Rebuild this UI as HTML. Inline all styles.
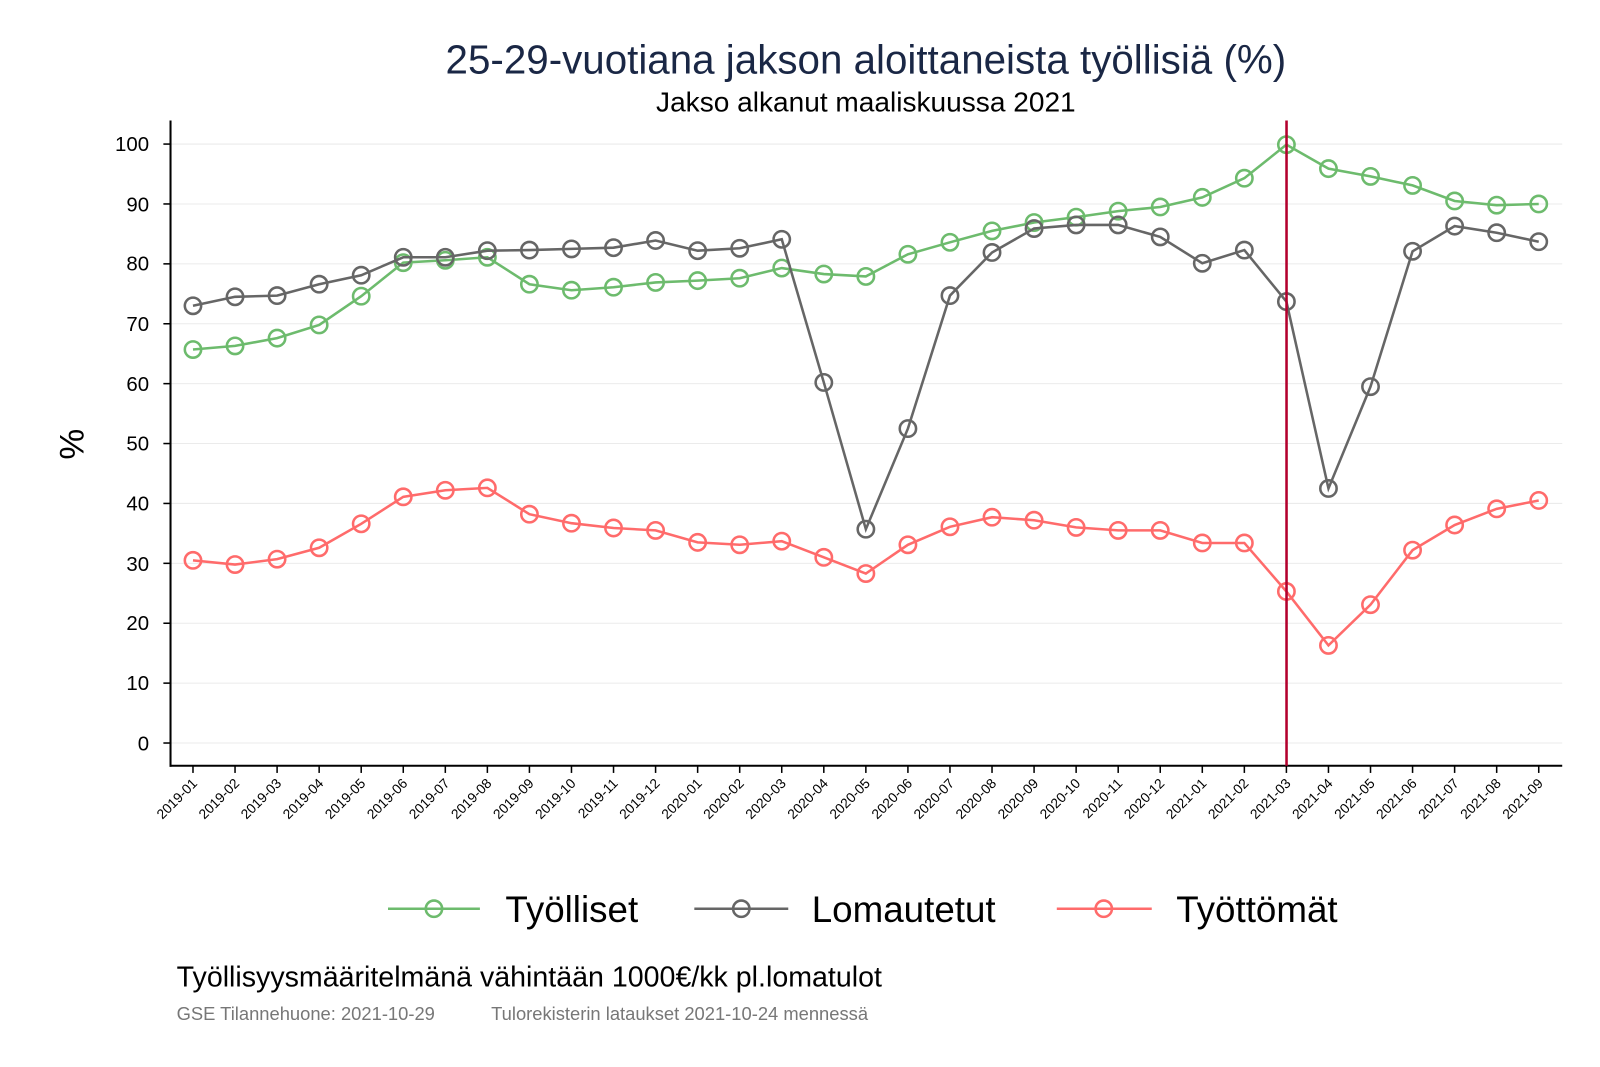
<!DOCTYPE html>
<html><head><meta charset="utf-8"><style>
html,body{margin:0;padding:0;background:#fff;}
svg{display:block;font-family:"Liberation Sans",Arial,sans-serif;}
</style></head><body>
<svg id="c" width="1600" height="1067" viewBox="0 0 1567 1045" xmlns="http://www.w3.org/2000/svg">
<rect width="1567" height="1045" fill="#fff"/>
<text x="848" y="72" text-anchor="middle" font-size="39.5" fill="#1a2745">25-29-vuotiana jakson aloittaneista työllisiä (%)</text>
<text x="848" y="109" text-anchor="middle" font-size="27.5" fill="#000">Jakso alkanut maaliskuussa 2021</text>
<g id="grid" stroke="#ebebeb" stroke-width="1"></g>
<g font-size="20" text-anchor="end" fill="#000">
<text x="146" y="148">100</text><text x="146" y="207">90</text><text x="146" y="265">80</text>
<text x="146" y="324">70</text><text x="146" y="383">60</text><text x="146" y="441">50</text>
<text x="146" y="500">40</text><text x="146" y="559">30</text><text x="146" y="617">20</text>
<text x="146" y="676">10</text><text x="146" y="735">0</text>
</g>
<text transform="translate(82,435) rotate(-90)" text-anchor="middle" font-size="34">%</text>
<line x1="167" y1="118" x2="167" y2="751" stroke="#000" stroke-width="2"/>
<line x1="166" y1="750" x2="1530" y2="750" stroke="#000" stroke-width="2"/>
<g id="ticks" stroke="#000" stroke-width="1.5"></g>
<g font-size="13.5" text-anchor="end" fill="#000">
<text transform="translate(194,768) rotate(-45)">2019-01</text>
<text transform="translate(235.2,768) rotate(-45)">2019-02</text>
<text transform="translate(276.4,768) rotate(-45)">2019-03</text>
<text transform="translate(317.6,768) rotate(-45)">2019-04</text>
<text transform="translate(358.8,768) rotate(-45)">2019-05</text>
<text transform="translate(399.9,768) rotate(-45)">2019-06</text>
<text transform="translate(441.1,768) rotate(-45)">2019-07</text>
<text transform="translate(482.3,768) rotate(-45)">2019-08</text>
<text transform="translate(523.5,768) rotate(-45)">2019-09</text>
<text transform="translate(564.7,768) rotate(-45)">2019-10</text>
<text transform="translate(605.9,768) rotate(-45)">2019-11</text>
<text transform="translate(647.1,768) rotate(-45)">2019-12</text>
<text transform="translate(688.3,768) rotate(-45)">2020-01</text>
<text transform="translate(729.4,768) rotate(-45)">2020-02</text>
<text transform="translate(770.6,768) rotate(-45)">2020-03</text>
<text transform="translate(811.8,768) rotate(-45)">2020-04</text>
<text transform="translate(853,768) rotate(-45)">2020-05</text>
<text transform="translate(894.2,768) rotate(-45)">2020-06</text>
<text transform="translate(935.4,768) rotate(-45)">2020-07</text>
<text transform="translate(976.6,768) rotate(-45)">2020-08</text>
<text transform="translate(1017.8,768) rotate(-45)">2020-09</text>
<text transform="translate(1058.9,768) rotate(-45)">2020-10</text>
<text transform="translate(1100.1,768) rotate(-45)">2020-11</text>
<text transform="translate(1141.3,768) rotate(-45)">2020-12</text>
<text transform="translate(1182.5,768) rotate(-45)">2021-01</text>
<text transform="translate(1223.7,768) rotate(-45)">2021-02</text>
<text transform="translate(1264.9,768) rotate(-45)">2021-03</text>
<text transform="translate(1306.1,768) rotate(-45)">2021-04</text>
<text transform="translate(1347.3,768) rotate(-45)">2021-05</text>
<text transform="translate(1388.4,768) rotate(-45)">2021-06</text>
<text transform="translate(1429.6,768) rotate(-45)">2021-07</text>
<text transform="translate(1470.8,768) rotate(-45)">2021-08</text>
<text transform="translate(1512,768) rotate(-45)">2021-09</text>
</g>
<g id="series"></g>
<line x1="1260" y1="118" x2="1260" y2="750" stroke="#b3002d" stroke-width="2.5"/>
<g stroke-width="2.5" fill="none">
<line x1="380" y1="890" x2="470" y2="890" stroke="#6dbb6d"/><circle cx="425" cy="890" r="8" stroke="#6dbb6d"/>
<line x1="680" y1="890" x2="772" y2="890" stroke="#666"/><circle cx="726" cy="890" r="8" stroke="#666"/>
<line x1="1035" y1="890" x2="1128" y2="890" stroke="#ff6b6b"/><circle cx="1081" cy="890" r="8" stroke="#ff6b6b"/>
</g>
<g font-size="36" fill="#000">
<text x="495" y="903">Työlliset</text><text x="795" y="903">Lomautetut</text><text x="1152" y="903">Työttömät</text>
</g>
<text x="173" y="966" font-size="28" fill="#000">Työllisyysmääritelmänä vähintään 1000€/kk pl.lomatulot</text>
<text x="173" y="999" font-size="18" fill="#777">GSE Tilannehuone: 2021-10-29</text>
<text x="481" y="999" font-size="18" fill="#777">Tulorekisterin lataukset 2021-10-24 mennessä</text>
</svg>
<script>
var NS="http://www.w3.org/2000/svg";
function el(t,a,p){var e=document.createElementNS(NS,t);for(var k in a)e.setAttribute(k,a[k]);p.appendChild(e);return e;}
var X=function(i){return 189+41.1875*i;},Y=function(v){return 727.7-5.866*v;};
var g=document.getElementById('grid'),tk=document.getElementById('ticks');
for(var v=0;v<=100;v+=10){el('line',{x1:167,x2:1530,y1:Y(v),y2:Y(v)},g);el('line',{x1:160,x2:167,y1:Y(v),y2:Y(v)},tk);}
for(var i=0;i<33;i++)el('line',{x1:X(i),x2:X(i),y1:750,y2:757},tk);
var D=[
["#6dbb6d",[65.7,66.3,67.6,69.8,74.6,80.2,80.6,81.1,76.6,75.6,76.1,76.9,77.2,77.6,79.3,78.3,77.9,81.6,83.6,85.5,86.9,87.8,88.8,89.5,91.1,94.3,99.9,95.9,94.6,93.1,90.5,89.8,90.0]],
["#666666",[73.0,74.5,74.7,76.6,78.1,81.1,81.1,82.2,82.3,82.5,82.7,83.9,82.2,82.6,84.1,60.2,35.7,52.5,74.7,81.9,85.9,86.5,86.5,84.5,80.1,82.3,73.7,42.5,59.5,82.1,86.3,85.2,83.7]],
["#ff6b6b",[30.5,29.8,30.7,32.6,36.6,41.1,42.2,42.6,38.2,36.7,35.9,35.5,33.5,33.1,33.7,31.0,28.3,33.1,36.1,37.7,37.2,36.0,35.5,35.5,33.4,33.4,25.3,16.3,23.1,32.2,36.4,39.1,40.5]]];
var s=document.getElementById('series');
D.forEach(function(d){var pts=d[1].map(function(v,i){return X(i)+","+Y(v);}).join(" ");
el('polyline',{points:pts,fill:"none",stroke:d[0],"stroke-width":2.5},s);
d[1].forEach(function(v,i){el('circle',{cx:X(i),cy:Y(v),r:8,fill:"none",stroke:d[0],"stroke-width":2.5},s);});});
</script>
</body></html>
